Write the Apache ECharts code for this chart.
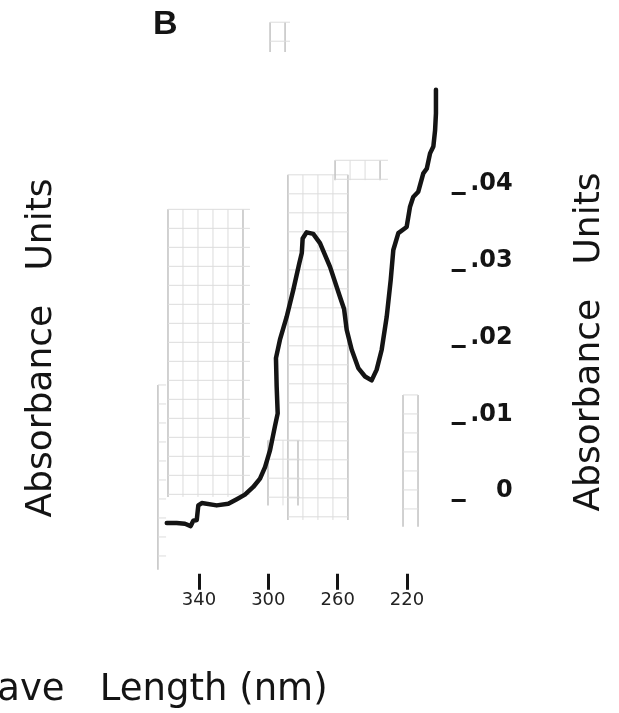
<!DOCTYPE html>
<html>
<head>
<meta charset="utf-8">
<script src="https://cdn.jsdelivr.net/npm/echarts@6.0.0/dist/echarts.min.js"></script>
<style>
  html, body { margin: 0; padding: 0; background: #ffffff; }
  #chart { width: 619px; height: 713px; }
</style>
</head>
<body>
<div id="chart"></div>
<script>
// ---- data ----
const wavelengthNm = [358.6, 352.9, 348.1, 344.8, 343.3, 341.3, 340.4, 338.4, 329.8, 323.1,
  318.2, 313.5, 308.7, 304.8, 301.9, 299.0, 296.2, 294.6, 295.2, 295.6,
  293.3, 289.4, 285.6, 282.1, 280.7, 280.2, 277.9, 274.1, 270.2, 264.4,
  258.7, 256.3, 254.8, 251.9, 248.1, 244.2, 240.4, 237.5, 234.6, 231.7,
  229.4, 227.9, 225.0, 220.2, 218.3, 216.4, 213.5, 210.6, 208.6, 206.7,
  204.8, 203.8, 203.3, 203.3];
const absorbanceUnits = [-0.0030, -0.0030, -0.0031, -0.0034, -0.0027, -0.0026, -0.0007, -0.0004, -0.0007, -0.0005,
  0.0001, 0.0007, 0.0017, 0.0028, 0.0043, 0.0065, 0.0096, 0.0113, 0.0148, 0.0185,
  0.0209, 0.0239, 0.0274, 0.0309, 0.0322, 0.0341, 0.0349, 0.0347, 0.0335, 0.0304,
  0.0265, 0.0249, 0.0222, 0.0196, 0.0172, 0.0161, 0.0156, 0.0170, 0.0196, 0.0239,
  0.0287, 0.0326, 0.0348, 0.0356, 0.0382, 0.0395, 0.0402, 0.0426, 0.0432, 0.0452,
  0.0461, 0.0482, 0.0504, 0.0535];
const xTickValues = [340, 300, 260, 220];
const yTickValues = [0, 0.01, 0.02, 0.03, 0.04];
// faint chart-paper patches of the scan, in data units: [nm from, nm to, A top, A bottom]
const paperPatchFrom = [357.9, 288.7, 261.5, 300.2, 222.3, 363.7, 299.0];
const paperPatchTo   = [310.6, 254.0, 231.0, 281.7, 213.6, 359.0, 287.5];
const paperPatchTop  = [0.0379, 0.0424, 0.0443, 0.0078, 0.0137, 0.0150, 0.0623];
const paperPatchBot  = [0.0004, -0.0026, 0.0417, -0.0007, -0.0035, -0.0091, 0.0584];

const titleText = 'B';
const yName = 'Absorbance   Units';
const xName = 'Wave   Length (nm)';

// ---- build ----
const curve = wavelengthNm.map((w, i) => [w, absorbanceUnits[i]]);
const patches = paperPatchFrom.map((f, i) => [f, paperPatchTo[i], paperPatchTop[i], paperPatchBot[i]]);

const chart = echarts.init(document.getElementById('chart'), null, { renderer: 'canvas' });

const ink = '#141414';

chart.setOption({
  backgroundColor: '#ffffff',
  animation: false,
  grid: { left: 155.67, width: 286.0, top: 1.5, height: 575.2, containLabel: false },
  xAxis: {
    type: 'value', min: 200, max: 365, inverse: true, offset: -3,
    axisLine: { show: false, onZero: false },
    splitLine: { show: false },
    axisTick: { show: true, length: 16, customValues: xTickValues, lineStyle: { color: ink, width: 3 } },
    axisLabel: { customValues: xTickValues, margin: 18, fontFamily: 'DejaVu Sans', fontSize: 18, color: '#222' }
  },
  yAxis: {
    type: 'value', position: 'right', min: -0.01, max: 0.065, offset: 10,
    axisLine: { show: false, onZero: false },
    splitLine: { show: false },
    axisTick: { show: true, inside: false, length: 14, customValues: yTickValues, lineStyle: { color: ink, width: 3 } },
    axisLabel: {
      customValues: yTickValues, margin: 61, align: 'right', verticalAlign: 'bottom', lineHeight: 18,
      fontFamily: 'DejaVu Sans', fontWeight: 'bold', fontSize: 24, color: ink,
      formatter: v => v === 0 ? '0' : '.0' + Math.round(v * 100)
    }
  },
  series: [
    {
      type: 'custom', z: 1, silent: true, clip: false,
      encode: { x: [0, 1], y: [2, 3] },
      data: patches,
      renderItem: function (params, api) {
        const a = api.coord([api.value(0), api.value(2)]);
        const b = api.coord([api.value(1), api.value(3)]);
        const x0 = Math.min(a[0], b[0]), x1 = Math.max(a[0], b[0]);
        const y0 = Math.min(a[1], b[1]), y1 = Math.max(a[1], b[1]);
        const kids = [];
        for (let x = x0; x <= x1 + 0.5; x += 15) {
          const edge = (x === x0) || (x + 15 > x1 + 0.5);
          kids.push({ type: 'line', shape: { x1: x, y1: y0, x2: x, y2: y1 },
            style: { stroke: edge ? '#c2c2c2' : '#dcdcdc', lineWidth: edge ? 1.5 : 1 } });
        }
        for (let y = y0; y <= y1 + 0.5; y += 19) {
          kids.push({ type: 'line', shape: { x1: x0, y1: y, x2: x1, y2: y },
            style: { stroke: '#dcdcdc', lineWidth: 1 } });
        }
        return { type: 'group', children: kids };
      }
    },
    {
      type: 'line', z: 5, data: curve, showSymbol: false, smooth: false,
      lineStyle: { color: ink, width: 4.5, join: 'round', cap: 'round' }
    }
  ],
  graphic: [
    { type: 'text', left: 153, top: 8, style: { text: titleText, fontFamily: 'Liberation Sans', fontWeight: 'bold', fontSize: 34, fill: ink } },
    { type: 'text', x: 42, y: 348, rotation: Math.PI / 2,
      style: { text: yName, fontFamily: 'DejaVu Sans', fontSize: 36, fill: ink, align: 'center', verticalAlign: 'middle' } },
    { type: 'text', x: 590, y: 342, rotation: Math.PI / 2,
      style: { text: yName, fontFamily: 'DejaVu Sans', fontSize: 36, fill: ink, align: 'center', verticalAlign: 'middle' } },
    { type: 'text', x: -37, y: 690,
      style: { text: xName, fontFamily: 'DejaVu Sans', fontSize: 37, fill: ink, align: 'left', verticalAlign: 'middle' } }
  ]
});
</script>
</body>
</html>
